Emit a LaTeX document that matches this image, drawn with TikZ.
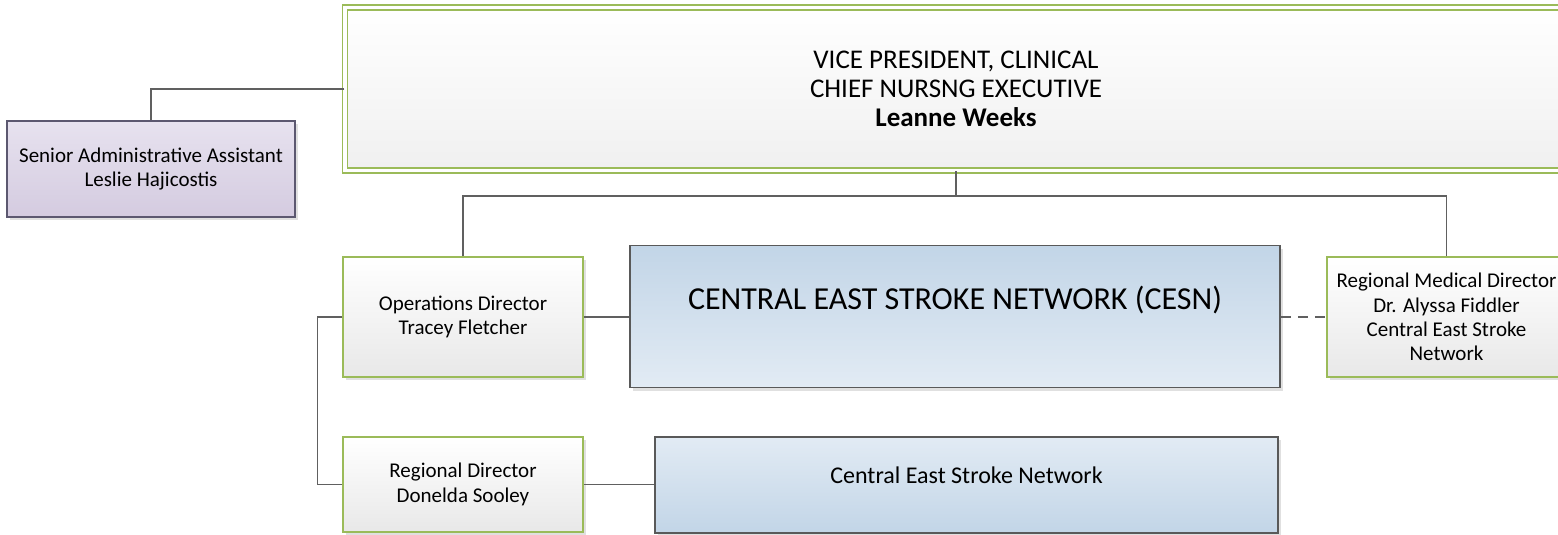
\documentclass[tikz,border=0pt]{standalone}
\usepackage{fontspec}
\setmainfont{Carlito}
\usepackage{tikz}
\usetikzlibrary{shadows}

\definecolor{boxgreen}{HTML}{9BBB59}
\definecolor{linegray}{HTML}{606060}
\definecolor{boxgray}{HTML}{595959}
\definecolor{lilacline}{HTML}{5C5870}
\definecolor{lilactop}{HTML}{E7E2EF}
\definecolor{lilacbottom}{HTML}{D4CBE0}
\definecolor{bluelight}{HTML}{E2EBF4}
\definecolor{bluedark}{HTML}{C2D5E7}

\begin{document}
\begin{tikzpicture}[x=0.5pt, y=-0.5pt,
			every text node part/.style={align=center},
			every node/.style={font=\fontsize{10.5}{12.2}\selectfont},
			shadowed/.style={drop shadow={shadow xshift=1.5pt, shadow yshift=-1.5pt, fill=black, opacity=0.12}},
			member/.style={draw=boxgreen, line width=0.75pt, rectangle, inner sep=2pt, top color=white, bottom color=black!9, shadowed},
			unit/.style={draw=boxgray, line width=0.75pt, rectangle, inner sep=2pt, shadowed},
			link/.style={draw=linegray, line width=0.75pt}]
			\useasboundingbox (0, 0) rectangle (1558, 535);
			\clip (0, 0) rectangle (1558, 535);

			\node[member, double=white, double distance=1.75pt, bottom color=black!6, minimum width=611pt, minimum height=81.5pt, font=\fontsize{13.5}{14.5}\selectfont](node1) at (956, 89) {VICE PRESIDENT, CLINICAL\\CHIEF NURSNG EXECUTIVE\\\textbf{Leanne Weeks}};

			\node[unit, draw=lilacline, top color=lilactop, bottom color=lilacbottom, minimum width=144pt, minimum height=48pt](node2) at (151, 169) {Senior Administrative Assistant\\Leslie Hajicostis};
			\draw[link] (node1.west) -| (node2.north);

			\node[member, minimum width=120pt, minimum height=60pt](node3) at (463, 317) {Operations Director\\Tracey Fletcher};
			\node[member, minimum width=119.5pt, minimum height=60pt](node5) at (1446.5, 317) {Regional Medical Director\\Dr. Alyssa Fiddler\\Central East Stroke\\Network};
			\coordinate (split) at (956, 196);
			\draw[link] (node1.south) -- (split);
			\draw[link] (node3.north) |- (split) -| (node5.north);

			\node[unit, top color=bluedark, bottom color=bluelight, minimum width=325pt, minimum height=71pt, text depth=19pt, font=\fontsize{16}{19}\selectfont](node4) at (955, 316.5) {CENTRAL EAST STROKE NETWORK (CESN)};
			\draw[link] (node3.east) -- (node3.east -| node4.west);
			\draw[link, dash pattern=on 5pt off 3.5pt] (node4.east |- node5.west) -- (node5.west);

			\node[member, minimum width=120pt, minimum height=47.5pt](node6) at (463, 484.5) {Regional Director\\Donelda Sooley};
			\draw[link] (node3.west) -- ++(-25, 0) |- (node6.west);

			\node[unit, top color=bluelight, bottom color=bluedark, minimum width=311.5pt, minimum height=48pt, text depth=10pt, font=\fontsize{12}{14}\selectfont](node7) at (966.5, 485) {Central East Stroke Network};
			\draw[link] (node6.east) -- (node6.east -| node7.west);
\end{tikzpicture}
\end{document}
